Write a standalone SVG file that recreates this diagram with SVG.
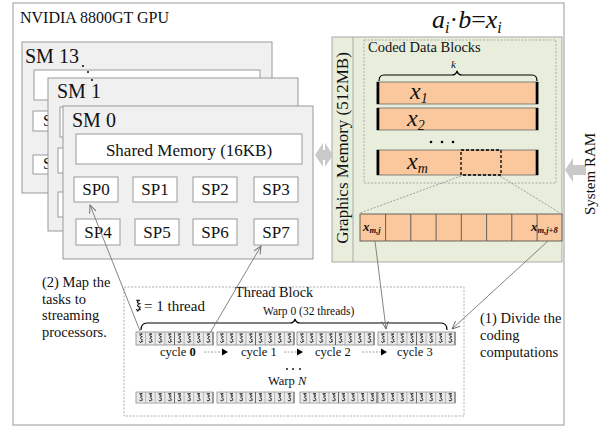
<svg xmlns="http://www.w3.org/2000/svg" xmlns:xlink="http://www.w3.org/1999/xlink" width="613" height="428" viewBox="0 0 613 428">
<style>
text{font-family:"Liberation Serif","Times New Roman",serif;fill:#111}
.sm{fill:#f0f0f0;stroke:#9a9a9a;stroke-width:1}
.in{fill:#fff;stroke:#9a9a9a;stroke-width:1}
.bar{fill:#fac89c;stroke:#666;stroke-width:0.8}
.edge{stroke:#000;stroke-width:2.6}
.cell{fill:#fac89c;stroke:#555;stroke-width:0.9}
.conn{stroke:#777;stroke-width:0.9;fill:none}
.dot{stroke:#888;stroke-width:0.8;fill:none;stroke-dasharray:2 1.5}
.brace{stroke:#000;stroke-width:1.2;fill:none}
.ga{fill:#c9c9c9}
.sq{stroke:#222;stroke-width:1;fill:none}
</style>
<defs>
<marker id="ah" markerWidth="10" markerHeight="8" refX="8" refY="4" orient="auto" markerUnits="userSpaceOnUse">
<path d="M0,0.5 L8,4 L0,7.5" fill="none" stroke="#666" stroke-width="0.9"/>
</marker>
<g id="sq"><path class="sq" d="M-1.5,2 L1.5,2 c-3,0.9 -2.5,2 0,2.8 c-2.5,0.8 -2.5,2 0,2.8 c-1.8,0.8 1.5,1.4 -0.2,2.6 M-1.4,9.2 L-0.2,10.8 L1,9.2"/></g>
<g id="w8">
<rect x="0" y="0" width="77" height="13" fill="#eaeaea" stroke="#888" stroke-width="0.8"/>
<path d="M9.6,0v13M19.2,0v13M28.9,0v13M38.5,0v13M48.1,0v13M57.7,0v13M67.4,0v13" stroke="#999" stroke-width="0.7"/>
<path d="M38.5,0v13M77,0v13" stroke="#666" stroke-width="1"/>
<use xlink:href="#sq" x="4.8"/><use xlink:href="#sq" x="14.4"/><use xlink:href="#sq" x="24"/><use xlink:href="#sq" x="33.7"/>
<use xlink:href="#sq" x="43.3"/><use xlink:href="#sq" x="52.9"/><use xlink:href="#sq" x="62.5"/><use xlink:href="#sq" x="72.2"/>
</g>
</defs>

<rect width="613" height="428" fill="#fff"/>

<g id="gpu">
<rect x="13" y="3" width="551" height="422" fill="#fff" stroke="#999" stroke-width="1"/>
<text x="20" y="23" font-size="16">NVIDIA 8800GT GPU</text>
<text x="432" y="28" font-size="26" font-style="italic">a<tspan font-size="16" dy="5">i</tspan><tspan dy="-5" font-style="normal">·</tspan>b<tspan font-style="normal">=</tspan>x<tspan font-size="16" dy="5">i</tspan></text>
</g>

<g id="sm13">
<rect class="sm" x="22" y="42" width="250" height="151"/>
<text x="25" y="63" font-size="20">SM 13</text>
<rect class="in" x="34" y="70" width="226" height="30"/>
<rect class="in" x="33" y="111" width="44" height="20"/>
<rect class="in" x="33" y="155" width="44" height="19"/>
<text x="43" y="126" font-size="16">SP0</text>
<text x="43" y="169" font-size="16">SP4</text>
</g>
<g id="sm1">
<rect class="sm" x="48" y="78" width="250" height="153"/>
<text x="57" y="98" font-size="20">SM 1</text>
<rect class="in" x="60" y="107" width="226" height="30"/>
<rect class="in" x="58" y="148" width="44" height="25"/>
<rect class="in" x="58" y="192" width="44" height="25"/>
</g>
<g id="smdots" fill="#000">
<circle cx="83" cy="66" r="1"/><circle cx="88" cy="72" r="1"/><circle cx="92" cy="80" r="1"/>
</g>
<g id="sm0">
<rect class="sm" x="63" y="106" width="250" height="153"/>
<text x="72" y="127" font-size="20">SM 0</text>
<rect class="in" x="76" y="134" width="226" height="30"/>
<text x="189" y="156" font-size="17" text-anchor="middle">Shared Memory (16KB)</text>
</g>
<g id="sp0"><rect class="in" x="74" y="177" width="44" height="25"/><text x="96" y="195" font-size="17" text-anchor="middle">SP0</text></g>
<g id="sp1"><rect class="in" x="133" y="177" width="44" height="25"/><text x="155" y="195" font-size="17" text-anchor="middle">SP1</text></g>
<g id="sp2"><rect class="in" x="193" y="177" width="44" height="25"/><text x="215" y="195" font-size="17" text-anchor="middle">SP2</text></g>
<g id="sp3"><rect class="in" x="254" y="177" width="44" height="25"/><text x="276" y="195" font-size="17" text-anchor="middle">SP3</text></g>
<g id="sp4"><rect class="in" x="76" y="219" width="44" height="26"/><text x="98" y="238" font-size="17" text-anchor="middle">SP4</text></g>
<g id="sp5"><rect class="in" x="135" y="219" width="44" height="26"/><text x="157" y="238" font-size="17" text-anchor="middle">SP5</text></g>
<g id="sp6"><rect class="in" x="193" y="219" width="44" height="26"/><text x="215" y="238" font-size="17" text-anchor="middle">SP6</text></g>
<g id="sp7"><rect class="in" x="254" y="219" width="44" height="26"/><text x="276" y="238" font-size="17" text-anchor="middle">SP7</text></g>

<g id="graphics-memory">
<rect x="332" y="37" width="230" height="225" fill="#e9eedc" stroke="#aaa" stroke-width="1"/>
<line x1="353" y1="37" x2="353" y2="262" stroke="#aaa" stroke-width="1"/>
<text transform="translate(348,148) rotate(-90)" font-size="17" text-anchor="middle">Graphics Memory (512MB)</text>
</g>
<g id="coded-blocks">
<rect x="364" y="40" width="192" height="143" fill="none" stroke="#999" stroke-width="0.8" stroke-dasharray="2 1.5"/>
<text x="368" y="52" font-size="14.5">Coded Data Blocks</text>
<path class="brace" stroke-width="1" d="M379,81 Q379,75 384,75 L452,75 Q456,75 457,71 Q458,75 462,75 L532,75 Q537,75 537,81"/>
<text x="451" y="68" font-size="11" font-style="italic">k</text>
</g>
<g id="x1">
<rect class="bar" x="377" y="82" width="161" height="22"/>
<line class="edge" x1="378" y1="82" x2="378" y2="104"/><line class="edge" x1="537" y1="82" x2="537" y2="104"/>
<text x="410" y="99" font-size="24" font-style="italic">x<tspan font-size="14" dy="4">1</tspan></text>
</g>
<g id="x2">
<rect class="bar" x="377" y="108" width="161" height="22"/>
<line class="edge" x1="378" y1="108" x2="378" y2="130"/><line class="edge" x1="537" y1="108" x2="537" y2="130"/>
<text x="407" y="126" font-size="24" font-style="italic">x<tspan font-size="14" dy="4">2</tspan></text>
</g>
<g id="bardots" fill="#000">
<circle cx="431" cy="142" r="1.3"/><circle cx="442" cy="142" r="1.3"/><circle cx="453" cy="142" r="1.3"/>
</g>
<g id="xm">
<rect class="bar" x="377" y="150" width="161" height="25"/>
<line class="edge" x1="378" y1="150" x2="378" y2="175"/><line class="edge" x1="537" y1="150" x2="537" y2="175"/>
<rect x="461" y="150" width="40" height="25" fill="none" stroke="#000" stroke-width="1.3" stroke-dasharray="3 2"/>
<text x="407" y="169" font-size="24" font-style="italic">x<tspan font-size="14" dy="4" font-style="italic">m</tspan></text>
</g>
<g id="cells">
<rect class="cell" x="360" y="214" width="202" height="27"/>
<path d="M385.6,214v27M410.8,214v27M436.1,214v27M461.3,214v27M486.6,214v27M511.8,214v27M537.1,214v27" stroke="#555" stroke-width="0.9"/>
<text x="363" y="231" font-size="13" font-style="italic" font-weight="bold">x<tspan font-size="8.5" dy="2">m,j</tspan></text>
<text x="531" y="231" font-size="13" font-style="italic" font-weight="bold">x<tspan font-size="8.5" dy="2">m,j+8</tspan></text>
</g>
<g id="ram-arrows">
<path class="ga" d="M315,155 L323,143 L323,150 L325,150 L325,143 L333,155 L325,167 L325,160 L323,160 L323,167 Z"/>
<path class="ga" d="M565,170 L573,158 L573,165 L586,165 L586,175 L573,175 L573,182 Z"/>
<text transform="translate(595,174) rotate(-90)" font-size="15" text-anchor="middle">System RAM</text>
</g>

<g id="thread-block">
<rect x="124" y="287" width="340" height="129" fill="none" stroke="#999" stroke-width="0.8" stroke-dasharray="2 1.5"/>
<text x="235" y="297" font-size="14.3">Thread Block</text>
<use xlink:href="#sq" transform="translate(138,298) scale(1.2)"/>
<text x="144" y="311" font-size="15">= 1 thread</text>
<text x="263" y="315" font-size="11.5">Warp 0 (32 threads)</text>
<path class="brace" d="M141,330 Q141,323 147,323 L290,323 Q294,323 295,319 Q296,323 300,323 L441,323 Q447,323 447,330"/>
<use xlink:href="#w8" x="136" y="332"/>
<use xlink:href="#w8" x="217" y="332"/>
<use xlink:href="#w8" x="297" y="332"/>
<use xlink:href="#w8" x="378" y="332"/>
<text x="160" y="356" font-size="12.5">cycle <tspan font-weight="bold">0</tspan></text>
<text x="241" y="356" font-size="12.5">cycle 1</text>
<text x="315" y="356" font-size="12.5">cycle 2</text>
<text x="397" y="356" font-size="12.5">cycle 3</text>
<g fill="#000">
<line class="dot" x1="204" y1="352" x2="222" y2="352"/><path d="M222,348.5 L228,352 L222,355.5Z"/>
<line class="dot" x1="284" y1="352" x2="297" y2="352"/><path d="M297,348.5 L303,352 L297,355.5Z"/>
<line class="dot" x1="362" y1="352" x2="381" y2="352"/><path d="M381,348.5 L387,352 L381,355.5Z"/>
<circle cx="287" cy="369" r="0.9"/><circle cx="293" cy="369" r="0.9"/><circle cx="300" cy="369" r="0.9"/>
</g>
<text x="268" y="385" font-size="12.5">Warp <tspan font-style="italic">N</tspan></text>
<g transform="translate(0,392) scale(1,0.85)">
<use xlink:href="#w8" x="136" y="0"/>
<use xlink:href="#w8" x="217" y="0"/>
<use xlink:href="#w8" x="300" y="0"/>
<use xlink:href="#w8" x="378" y="0"/>
</g>
</g>

<g id="labels">
<text font-size="14.5"><tspan x="42" y="287">(2) Map the</tspan><tspan x="42" y="303.5">tasks to</tspan><tspan x="42" y="320">streaming</tspan><tspan x="42" y="336.5">processors.</tspan></text>
<text font-size="14.5"><tspan x="480" y="323">(1) Divide the</tspan><tspan x="480" y="340">coding</tspan><tspan x="480" y="357">computations</tspan></text>
</g>

<g id="connectors">
<line class="dot" x1="461" y1="176" x2="360" y2="213"/>
<line class="dot" x1="500" y1="176" x2="560" y2="213"/>
<line class="conn" x1="375" y1="241" x2="386" y2="329" marker-end="url(#ah)"/>
<line class="conn" x1="548" y1="241" x2="452" y2="329" marker-end="url(#ah)"/>
<line class="conn" x1="140" y1="331" x2="90" y2="205" marker-end="url(#ah)"/>
<line class="conn" x1="210" y1="333" x2="261" y2="246" marker-end="url(#ah)"/>
</g>
</svg>
